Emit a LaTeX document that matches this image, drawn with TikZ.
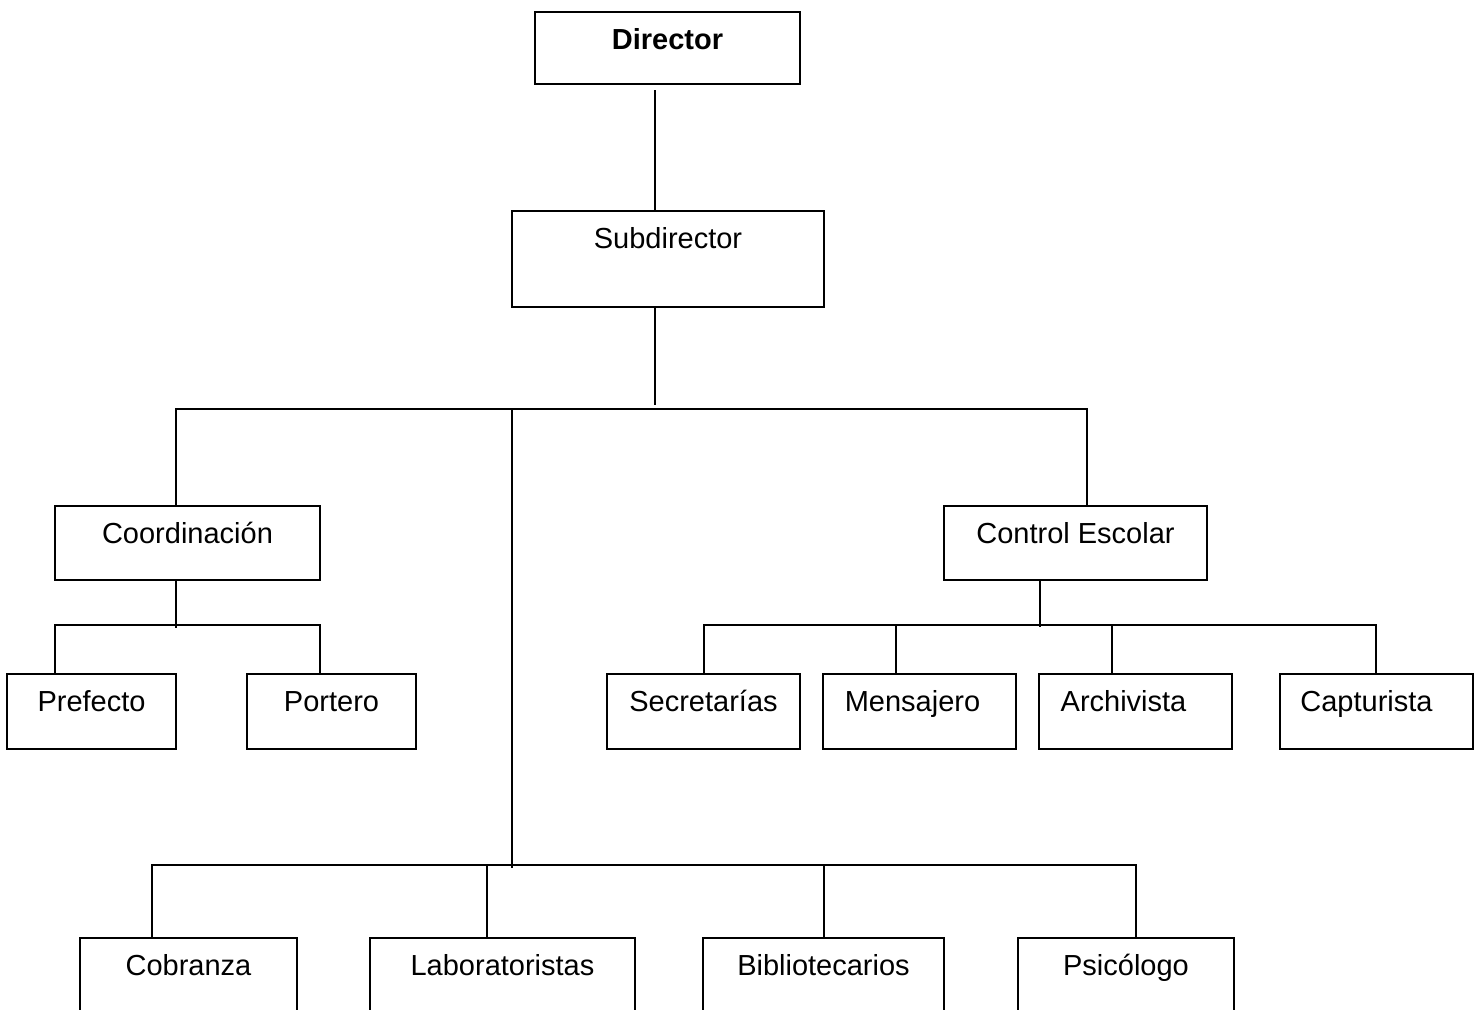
\documentclass[tikz,border=0pt]{standalone}
\usepackage{fontspec}
\setmainfont{Liberation Sans}
\begin{document}
\begin{tikzpicture}[x=1pt,y=-1pt,
  box/.style={draw, line width=1.7pt, inner sep=0pt, anchor=north, text height=38pt,
              font=\fontsize{29}{34}\selectfont},
  conn/.style={line width=1.7pt}]
\useasboundingbox (0,0) rectangle (1479,1009);
% boxes
\node[box, minimum width=265pt, text depth=34pt] (dir) at (667.5,11) {\bfseries Director};
\node[box, minimum width=312pt, text depth=58pt] (sub) at (668,210) {Subdirector};
\node[box, minimum width=265pt, text depth=36pt] (coord) at (187.5,505) {Coordinación};
\node[box, minimum width=263pt, text depth=36pt] (ctrl) at (1075.5,505) {Control Escolar};
\node[box, minimum width=169pt, text depth=37pt] (pref) at (91.5,673) {Prefecto};
\node[box, minimum width=169pt, text depth=37pt] (port) at (331.5,673) {Portero};
\node[box, minimum width=193pt, text depth=37pt] (sec) at (703.5,673) {Secretarías};
\node[box, minimum width=193pt, text depth=37pt] (men) at (919.5,673) {\hspace*{-14pt}Mensajero};
\node[box, minimum width=193pt, text depth=37pt] (arc) at (1135.5,673) {\hspace*{-24pt}Archivista};
\node[box, minimum width=193pt, text depth=37pt] (cap) at (1376.5,673) {\hspace*{-20pt}Capturista};
\node[box, minimum width=217pt, text depth=100pt] (cob) at (188.5,937) {Cobranza};
\node[box, minimum width=265pt, text depth=100pt] (lab) at (502.5,937) {Laboratoristas};
\node[box, minimum width=241pt, text depth=100pt] (bib) at (823.5,937) {Bibliotecarios};
\node[box, minimum width=216pt, text depth=100pt] (psi) at (1126,937) {Psicólogo};
% junction coordinates
\coordinate (a0) at (655,90);
\coordinate (a1) at (655,405);
\coordinate (bl) at (176,409);
\coordinate (br) at (1087,409);
\coordinate (bm) at (512,409);
\coordinate (bb) at (512,868);
\coordinate (cm) at (176,628);
\coordinate (cl) at (55,625);
\coordinate (cr) at (320,625);
\coordinate (dm) at (1040,627);
\coordinate (s1) at (704,625);
\coordinate (s2) at (896,625);
\coordinate (s3) at (1112,625);
\coordinate (s4) at (1376,625);
\coordinate (t1) at (152,865);
\coordinate (t2) at (487,865);
\coordinate (t3) at (824,865);
\coordinate (t4) at (1136,865);
% connectors
\draw[conn] (a0) -- (a0 |- sub.north);
\draw[conn] (sub.south -| a1) -- (a1);
\draw[conn] (coord.north -| bl) -- (bl) -- (br) -- (ctrl.north -| br);
\draw[conn] (bm) -- (bb);
\draw[conn] (coord.south -| cm) -- (cm);
\draw[conn] (pref.north -| cl) -- (cl) -- (cr) -- (port.north -| cr);
\draw[conn] (ctrl.south -| dm) -- (dm);
\draw[conn] (sec.north -| s1) -- (s1) -- (s4) -- (cap.north -| s4);
\draw[conn] (s2) -- (men.north -| s2);
\draw[conn] (s3) -- (arc.north -| s3);
\draw[conn] (cob.north -| t1) -- (t1) -- (t4) -- (psi.north -| t4);
\draw[conn] (t2) -- (lab.north -| t2);
\draw[conn] (t3) -- (bib.north -| t3);
\end{tikzpicture}
\end{document}
